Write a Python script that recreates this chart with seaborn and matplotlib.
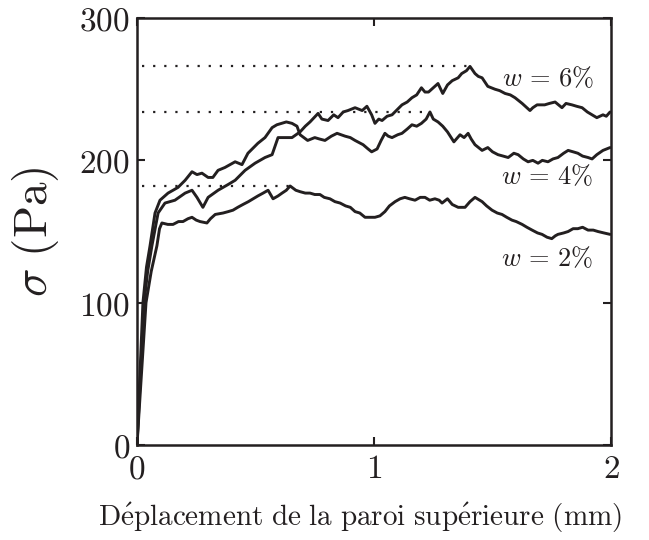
import matplotlib
matplotlib.use("Agg")
import matplotlib.pyplot as plt
import numpy as np
import pandas as pd
import seaborn as sns

# Shear stress versus top-wall displacement for three water contents
x_w6 = [0, 0.012, 0.03, 0.045, 0.063, 0.089, 0.118, 0.16, 0.203, 0.232, 0.253, 0.278, 0.30,
        0.342, 0.384, 0.414, 0.456, 0.498, 0.54, 0.57, 0.595, 0.624, 0.654, 0.688, 0.71, 0.73,
        0.764, 0.78, 0.806, 0.83, 0.848, 0.87, 0.89, 0.92, 0.95, 0.97, 0.99, 1.004, 1.02, 1.034,
        1.055, 1.076, 1.1, 1.118, 1.14, 1.16, 1.18, 1.2, 1.215, 1.23, 1.25, 1.27, 1.29, 1.31,
        1.33, 1.355, 1.37, 1.39, 1.405, 1.426, 1.44, 1.456, 1.48, 1.51, 1.53, 1.553, 1.575,
        1.595, 1.625, 1.658, 1.67, 1.688, 1.72, 1.74, 1.764, 1.793, 1.81, 1.835, 1.855, 1.878,
        1.9, 1.92, 1.94, 1.966, 1.98, 1.996]
s_w6 = [0, 40, 100, 122, 140, 163, 170, 172, 177, 179, 174, 167, 174,
        179, 183, 186, 193, 198, 202, 204, 216, 216, 216, 220, 224, 227,
        233, 229, 228, 232, 230, 234, 235, 237, 235, 238, 232, 226, 229, 228,
        231, 232, 236, 239, 241, 244, 246, 251, 248, 248, 251, 254, 247, 253,
        256, 258, 261, 263, 266, 261, 259, 258, 252, 250, 249, 247, 246,
        244, 240, 235, 237, 239, 239, 240, 241, 237, 240, 239, 238, 237,
        234, 232, 230, 232, 231, 234]

x_w4 = [0, 0.01, 0.025, 0.04, 0.055, 0.076, 0.097, 0.131, 0.173, 0.203, 0.232, 0.253, 0.274,
        0.30, 0.32, 0.342, 0.371, 0.414, 0.443, 0.468, 0.51, 0.54, 0.57, 0.59, 0.61, 0.63,
        0.654, 0.675, 0.688, 0.72, 0.75, 0.77, 0.793, 0.82, 0.844, 0.878, 0.9, 0.92, 0.954,
        0.975, 0.99, 1.013, 1.03, 1.046, 1.06, 1.076, 1.1, 1.118, 1.14, 1.16, 1.18, 1.2, 1.22,
        1.236, 1.25, 1.27, 1.29, 1.31, 1.337, 1.363, 1.38, 1.397, 1.41, 1.426, 1.456, 1.48,
        1.5, 1.523, 1.545, 1.566, 1.59, 1.608, 1.63, 1.65, 1.67, 1.692, 1.71, 1.734, 1.755,
        1.776, 1.8, 1.819, 1.84, 1.86, 1.88, 1.903, 1.92, 1.94, 1.966, 1.996]
s_w4 = [0, 40, 100, 125, 140, 163, 172, 177, 181, 186, 192, 190, 191,
        188, 188, 193, 195, 199, 197, 205, 212, 216, 223, 225, 226, 227,
        226, 224, 218, 214, 216, 215, 214, 217, 219, 217, 216, 214, 211,
        208, 206, 208, 214, 219, 217, 216, 218, 219, 222, 225, 224, 226, 229,
        234, 229, 227, 224, 220, 213, 218, 216, 219, 215, 211, 207, 209,
        206, 204, 203, 202, 205, 204, 201, 199, 200, 198, 200, 199, 201,
        202, 205, 207, 206, 205, 203, 202, 201, 204, 207, 209]

x_w2 = [0, 0.015, 0.038, 0.06, 0.084, 0.095, 0.105, 0.13, 0.152, 0.175, 0.194, 0.215, 0.232,
        0.25, 0.266, 0.295, 0.31, 0.33, 0.363, 0.385, 0.405, 0.425, 0.447, 0.47, 0.49, 0.51,
        0.532, 0.553, 0.574, 0.595, 0.612, 0.63, 0.646, 0.67, 0.688, 0.71, 0.73, 0.75, 0.772,
        0.79, 0.814, 0.835, 0.857, 0.88, 0.9, 0.92, 0.94, 0.962, 0.983, 1.004, 1.025, 1.046,
        1.065, 1.089, 1.11, 1.13, 1.15, 1.173, 1.195, 1.215, 1.235, 1.257, 1.275, 1.287, 1.31,
        1.33, 1.355, 1.384, 1.405, 1.426, 1.456, 1.475, 1.498, 1.52, 1.54, 1.56, 1.582, 1.6,
        1.625, 1.645, 1.667, 1.69, 1.709, 1.73, 1.75, 1.765, 1.776, 1.8, 1.819, 1.84, 1.86,
        1.88, 1.903, 1.925, 1.945, 1.97, 1.996]
s_w2 = [0, 40, 100, 122, 140, 152, 156, 155, 155, 157, 157, 159, 160,
        158, 157, 156, 159, 162, 163, 164, 165, 167, 169, 171, 173, 175,
        177, 179, 173, 175, 177, 179, 182, 179, 178, 177, 177, 176, 176,
        174, 173, 171, 170, 168, 167, 164, 163, 160, 160, 160, 161, 164,
        168, 171, 173, 174, 173, 172, 174, 174, 172, 173, 172, 170, 173,
        169, 167, 167, 171, 174, 171, 168, 165, 163, 162, 160, 158, 157,
        155, 153, 151, 149, 148, 146, 145, 147, 148, 149, 150, 152, 152,
        153, 151, 151, 150, 149, 148]

series_names = ["w = 6%", "w = 4%", "w = 2%"]
label_texts = [r"$w\,=\,6\%$", r"$w\,=\,4\%$", r"$w\,=\,2\%$"]
label_x = [1.735, 1.728, 1.73]
label_y = [258, 189, 131]

x_ticks = [0, 1, 2]
y_ticks = [0, 100, 200, 300]

frames = []
for name, xs, ss in zip(series_names, [x_w6, x_w4, x_w2], [s_w6, s_w4, s_w2]):
    frames.append(pd.DataFrame({"d": xs, "sigma": ss, "w": name}))
df = pd.concat(frames, ignore_index=True)

sns.set_theme(style="ticks")
plt.rcParams["mathtext.fontset"] = "cm"
plt.rcParams["font.family"] = ["DejaVu Serif"]

ink = "#231f20"

fig = plt.figure(figsize=(6.49, 5.40), dpi=100)
ax = fig.add_axes([0.2111, 0.1759, 0.7304, 0.7907])

sns.lineplot(data=df, x="d", y="sigma", hue="w", palette=[ink] * 3,
             estimator=None, sort=False, legend=False, linewidth=2.1, ax=ax)

# dotted guides at the peak stress of each curve
for xs, ss in zip([x_w6, x_w4, x_w2], [s_w6, s_w4, s_w2]):
    i = int(np.argmax(ss))
    ax.plot([0.02, xs[i]], [ss[i], ss[i]], color=ink, lw=1.6,
            linestyle=(0, (1, 4)), dash_capstyle="butt")

for t, lx, ly in zip(label_texts, label_x, label_y):
    ax.text(lx, ly, t, fontsize=19, ha="center", va="center", color=ink)

ax.set_xlim(0, 2)
ax.set_ylim(0, 300)
ax.set_xticks(x_ticks, labels=[f"${v}$" for v in x_ticks])
ax.set_yticks(y_ticks, labels=[f"${v}$" for v in y_ticks])
ax.tick_params(axis="both", direction="in", length=6, width=1.5, color=ink,
               labelsize=24, labelcolor=ink, top=True, right=True)
ax.tick_params(axis="x", pad=6)
ax.tick_params(axis="y", pad=5)
for sp in ax.spines.values():
    sp.set_linewidth(1.8)
    sp.set_color(ink)
    sp.set_visible(True)

ax.set_xlabel(r"$\mathrm{D\acute{e}placement\ de\ la\ paroi\ sup\acute{e}rieure\ (mm)}$",
              fontsize=21, color=ink)
ax.xaxis.set_label_coords(0.47, -0.13)
ax.set_ylabel(r"$\sigma\ (\mathrm{Pa})$", fontsize=34, color=ink)
ax.yaxis.set_label_coords(-0.16, 0.5)

fig.savefig("out.png", dpi=100, facecolor="white")
